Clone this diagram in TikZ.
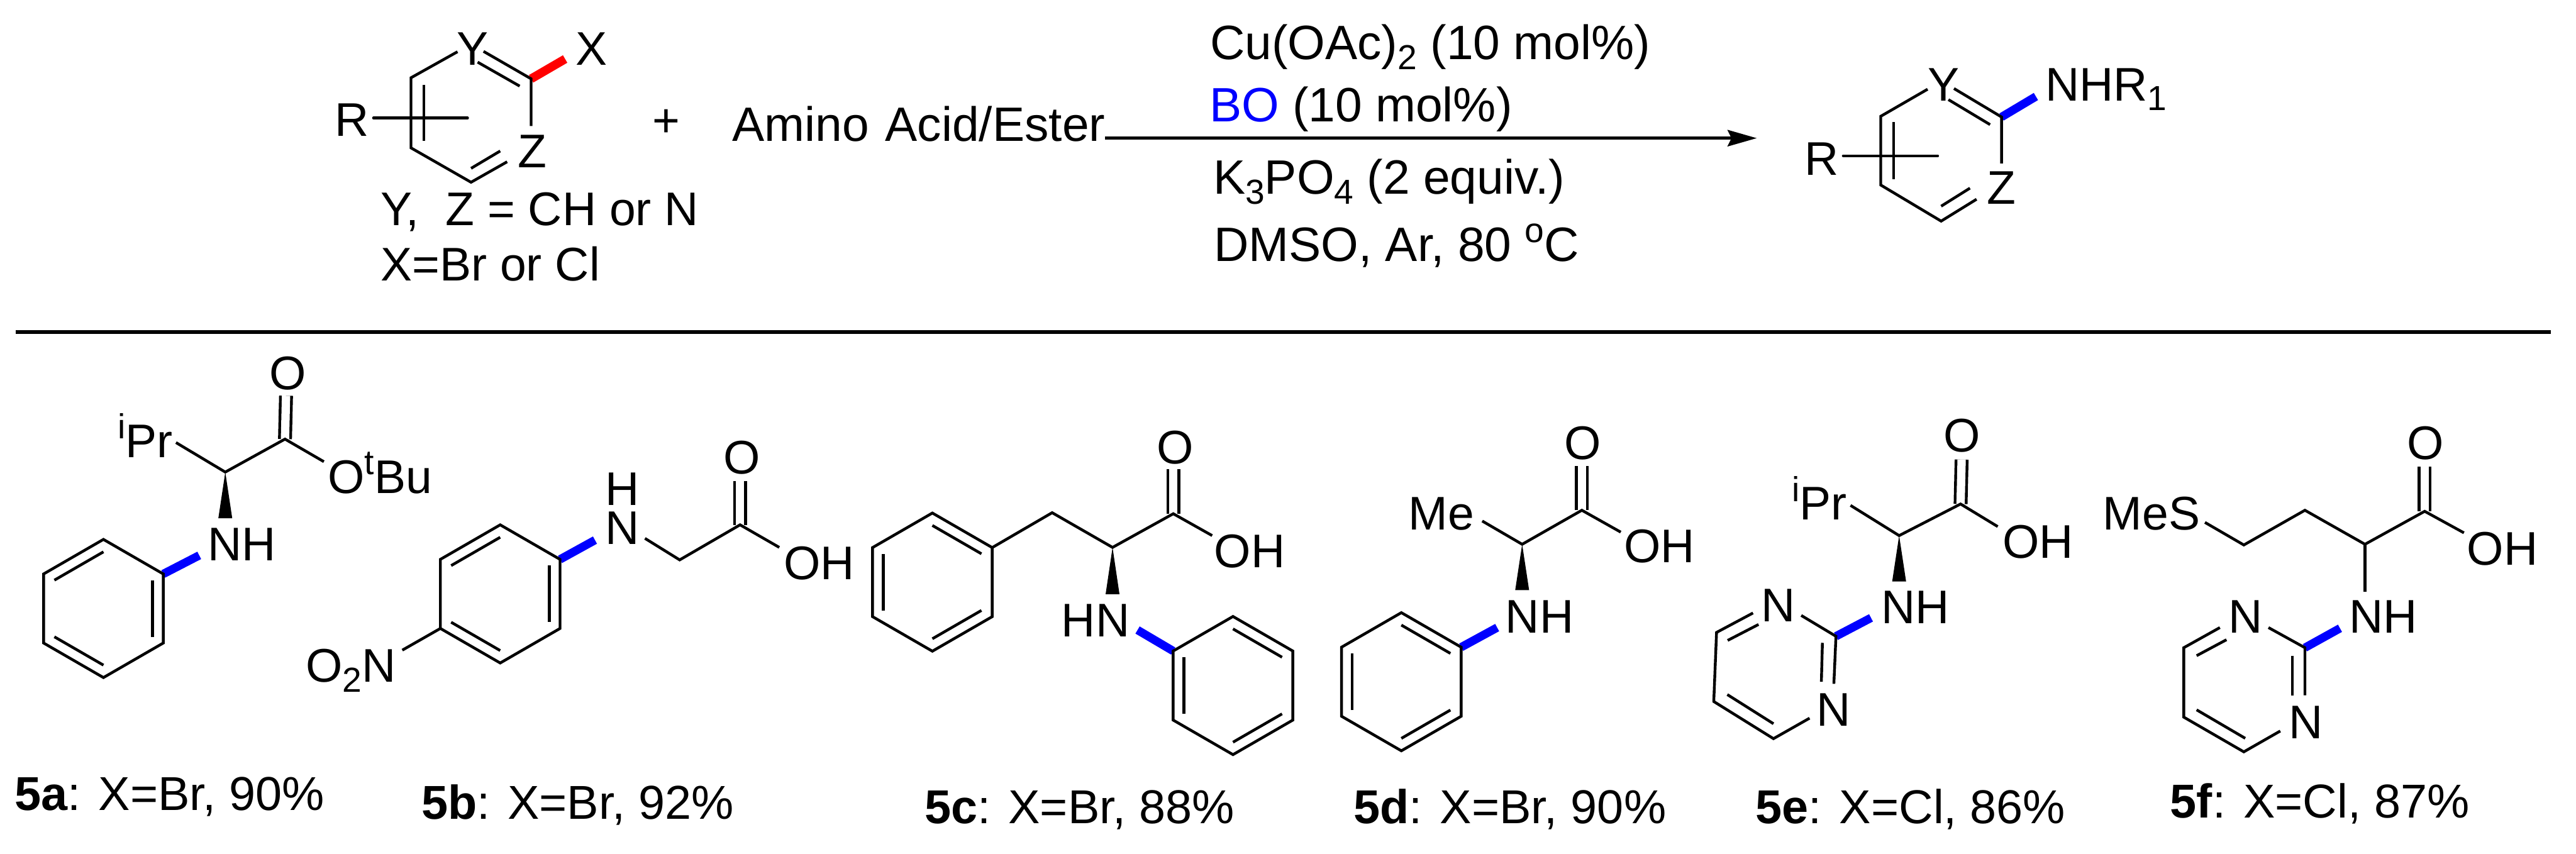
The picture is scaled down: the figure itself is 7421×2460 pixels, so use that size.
\documentclass[tikz,border=0pt]{standalone}
\usepackage{fontspec}
\setmainfont{Liberation Sans}
\usetikzlibrary{calc,arrows.meta}

\newcommand{\sbs}[1]{\raisebox{-2.8pt}{\fontsize{10}{12}\selectfont #1}}
\newcommand{\sps}[1]{\raisebox{5.4pt}{\fontsize{10}{12}\selectfont #1}}
\newcommand{\innerbond}[3]{\draw[bond] ($(#1)!0.18!(#3)$) -- ($(#2)!0.18!(#3)$);}
\newcommand{\hexpoints}[1]{%
    \foreach \n/\a in {1/-90,2/-30,3/30,4/90,5/150,6/210}
        \coordinate (#1\n) at ($(#1)+(\a:199)$);}
\newcommand{\hexring}[1]{\draw[bond] (#11) -- (#12) -- (#13) -- (#14) -- (#15) -- (#16) -- cycle;}

\tikzset{
    bond/.style={line width=0.8pt},
    doublebond/.style={bond, double, double distance=2.4pt},
    newbond/.style={line width=2.4pt, blue},
    oldbond/.style={line width=2.5pt, red},
    rxnarrow/.style={line width=0.9pt, -{Stealth[length=8.4pt,width=4.7pt,inset=1.1pt]}},
    divider/.style={line width=1pt},
    atom/.style={inner sep=0pt, anchor=base west, font=\fontsize{13.6}{16}\selectfont},
    reagent/.style={atom, font=\fontsize{13.9}{16}\selectfont},
    yield/.style={atom, font=\fontsize{13.7}{16}\selectfont},
}

\begin{document}
\begin{tikzpicture}[x=0.1pt, y=-0.1pt]
    \useasboundingbox (0,0) rectangle (7421,2460);

    % Substrate
    \node[atom] (subR) at (963,393) {R};
    \node[atom] (subY) at (1315,187) {Y};
    \node[atom] (subX) at (1657,187) {X};
    \node[atom] (subZ) at (1490,482) {Z};
    \coordinate (s1) at (1184,224);
    \coordinate (s2) at (1184,426);
    \coordinate (s3) at (1357,525);
    \coordinate (s4) at (1530,227);
    \coordinate (sY) at (1318,149);
    \coordinate (sYb) at (1393,148);
    \coordinate (sYi) at (1376,179);
    \coordinate (s4i) at (1497,248);
    \coordinate (sZ) at (1530,363);
    \coordinate (sZb) at (1461,466);
    \coordinate (sZi) at (1441,435);
    \coordinate (s3i) at (1357,485);
    \coordinate (s1i) at (1221,244);
    \coordinate (s2i) at (1221,406);
    \coordinate (sRl) at (1076,340);
    \coordinate (sRr) at (1347,340);
    \coordinate (sXe) at (1628,170);
    \draw[oldbond] (s4) -- (sXe);
    \draw[bond] (sY) -- (s1) -- (s2) -- (s3) -- (sZb);
    \draw[bond] (sYb) -- (s4) -- (sZ);
    \draw[bond] (sYi) -- (s4i);
    \draw[bond] (s3i) -- (sZi);
    \draw[bond] (s1i) -- (s2i);
    \draw[bond, line cap=round] (sRl) -- (sRr);
    \node[atom] (plus) at (1877,394) {+};
    \node[atom] (defYZ) at (1095,649) {Y,~~Z = CH or N};
    \node[atom] (defX) at (1095,808) {X=Br or Cl};

    % Conditions
    \node[reagent] (amino) at (2108,407) {Amino\kern0.8pt~Acid/Ester};
    \node[reagent] (cu) at (3484,172) {Cu(OAc)\sbs{2} (10 mol\%)};
    \node[reagent] (bo) at (3482,351) {\textcolor{blue}{BO} (10 mol\%)};
    \node[reagent] (base) at (3493,559) {K\sbs{3}PO\sbs{4} (2 equiv.)};
    \node[reagent] (solv) at (3495,753) {DMSO, Ar, 80 \sps{o}C};
    \coordinate (arrowL) at (3184,398);
    \coordinate (arrowR) at (5061,398);
    \draw[rxnarrow] (arrowL) -- (arrowR);

    % Product
    \node[atom] (proR) at (5196,504) {R};
    \node[atom] (proY) at (5551,290) {Y};
    \node[atom] (proN) at (5890,290) {NHR\sbs{1}};
    \node[atom] (proZ) at (5723,587) {Z};
    \coordinate (p1) at (5418,335);
    \coordinate (p2) at (5418,533);
    \coordinate (p3) at (5592,637);
    \coordinate (p4) at (5766,337);
    \coordinate (pY) at (5553,257);
    \coordinate (pYb) at (5629,255);
    \coordinate (pYi) at (5613,287);
    \coordinate (p4i) at (5733,359);
    \coordinate (pZ) at (5766,471);
    \coordinate (pZb) at (5694,574);
    \coordinate (pZi) at (5675,542);
    \coordinate (p3i) at (5592,594);
    \coordinate (p1i) at (5455,352);
    \coordinate (p2i) at (5455,516);
    \coordinate (pRl) at (5310,449);
    \coordinate (pRr) at (5582,449);
    \coordinate (pNe) at (5865,278);
    \draw[newbond] (p4) -- (pNe);
    \draw[bond] (pY) -- (p1) -- (p2) -- (p3) -- (pZb);
    \draw[bond] (pYb) -- (p4) -- (pZ);
    \draw[bond] (pYi) -- (p4i);
    \draw[bond] (p3i) -- (pZi);
    \draw[bond] (p1i) -- (p2i);
    \draw[bond, line cap=round] (pRl) -- (pRr);

    \coordinate (divL) at (45,957);
    \coordinate (divR) at (7349,957);
    \draw[divider] (divL) -- (divR);

    % 5a
    \node[atom] (aO) at (775,1123) {O};
    \node[atom] (aPr) at (338,1318) {\sps{i}Pr};
    \node[atom] (aOBu) at (943,1421) {O\sps{t}Bu};
    \node[atom] (aNH) at (596,1616) {NH};
    \coordinate (ra) at (298,1753);
    \coordinate (aC) at (821,1265);
    \coordinate (aCa) at (649,1360);
    \coordinate (aCt) at (824,1140);
    \coordinate (aPe) at (507,1275);
    \coordinate (aOe) at (933,1330);
    \coordinate (aNe) at (574,1600);
    \hexpoints{ra}
    \draw[newbond] (ra2) -- (aNe);
    \draw[doublebond] (aC) -- (aCt);
    \draw[bond] (aPe) -- (aCa) -- (aC) -- (aOe);
    \fill (aCa) -- ++(-20,133) -- ++(40,0) -- cycle;
    \hexring{ra}
    \innerbond{ra6}{ra1}{ra}
    \innerbond{ra2}{ra3}{ra}
    \innerbond{ra4}{ra5}{ra}
    \node[yield] (aLab) at (40,2334) {\textbf{5a}: X=Br, 90\%};

    % 5b
    \node[atom] (bH) at (1741,1456) {H};
    \node[atom] (bN) at (1741,1568) {N};
    \node[atom] (bO) at (2083,1365) {O};
    \node[atom] (bOH) at (2256,1669) {OH};
    \node[atom] (bNO) at (879,1965) {O\sbs{2}N};
    \coordinate (rb) at (1441,1711);
    \coordinate (bNe) at (1714,1556);
    \coordinate (bNr) at (1858,1551);
    \coordinate (bCH) at (1958,1613);
    \coordinate (bC) at (2132,1512);
    \coordinate (bCt) at (2132,1386);
    \coordinate (bOe) at (2245,1577);
    \coordinate (bNOe) at (1159,1873);
    \hexpoints{rb}
    \draw[newbond] (rb2) -- (bNe);
    \hexring{rb}
    \innerbond{rb6}{rb1}{rb}
    \innerbond{rb2}{rb3}{rb}
    \innerbond{rb4}{rb5}{rb}
    \draw[doublebond] (bC) -- (bCt);
    \draw[bond] (bNr) -- (bCH) -- (bC) -- (bOe);
    \draw[bond] (rb5) -- (bNOe);
    \node[yield] (bLab) at (1212,2360) {\textbf{5b}: X=Br, 92\%};

    % 5c
    \node[atom] (cO) at (3331,1337) {O};
    \node[atom] (cOH) at (3496,1635) {OH};
    \node[atom] (cHN) at (3056,1835) {HN};
    \coordinate (rc) at (2686,1677);
    \coordinate (rd) at (3552,1975);
    \coordinate (cCH) at (3031,1477);
    \coordinate (cCa) at (3205,1577);
    \coordinate (cC) at (3380,1480);
    \coordinate (cCt) at (3380,1352);
    \coordinate (cOe) at (3492,1543);
    \coordinate (cNe) at (3277,1815);
    \hexpoints{rc}
    \hexring{rc}
    \innerbond{rc1}{rc2}{rc}
    \innerbond{rc3}{rc4}{rc}
    \innerbond{rc5}{rc6}{rc}
    \draw[doublebond] (cC) -- (cCt);
    \draw[bond] (rc2) -- (cCH) -- (cCa) -- (cC) -- (cOe);
    \fill (cCa) -- ++(-20,135) -- ++(40,0) -- cycle;
    \hexpoints{rd}
    \draw[newbond] (rd6) -- (cNe);
    \hexring{rd}
    \innerbond{rd1}{rd2}{rd}
    \innerbond{rd3}{rd4}{rd}
    \innerbond{rd5}{rd6}{rd}
    \node[yield] (cLab) at (2662,2372) {\textbf{5c}: X=Br, 88\%};

    % 5d
    \node[atom] (dO) at (4504,1323) {O};
    \node[atom] (dOH) at (4676,1621) {OH};
    \node[atom] (dMe) at (4056,1526) {Me};
    \node[atom] (dNH) at (4335,1824) {NH};
    \coordinate (re) at (4037,1964);
    \coordinate (dC) at (4557,1470);
    \coordinate (dCa) at (4385,1568);
    \coordinate (dCt) at (4557,1342);
    \coordinate (dOe) at (4669,1533);
    \coordinate (dMee) at (4270,1501);
    \coordinate (dNe) at (4313,1808);
    \draw[doublebond] (dC) -- (dCt);
    \draw[bond] (dMee) -- (dCa) -- (dC) -- (dOe);
    \fill (dCa) -- ++(-20,132) -- ++(40,0) -- cycle;
    \hexpoints{re}
    \draw[newbond] (re2) -- (dNe);
    \hexring{re}
    \innerbond{re1}{re2}{re}
    \innerbond{re3}{re4}{re}
    \innerbond{re5}{re6}{re}
    \node[yield] (dLab) at (3898,2372) {\textbf{5d}: X=Br, 90\%};

    % 5e
    \node[atom] (eO) at (5598,1302) {O};
    \node[atom] (ePr) at (5160,1498) {\sps{i}Pr};
    \node[atom] (eOH) at (5767,1607) {OH};
    \node[atom] (eNH) at (5417,1796) {NH};
    \node[atom] (eNt) at (5072,1790) {N};
    \node[atom] (eNb) at (5231,2091) {N};
    \coordinate (eC) at (5648,1452);
    \coordinate (eCa) at (5471,1543);
    \coordinate (eCt) at (5651,1324);
    \coordinate (ePe) at (5331,1456);
    \coordinate (eOe) at (5755,1517);
    \coordinate (eNe) at (5390,1780);
    \coordinate (e2) at (5289,1833);
    \coordinate (e3) at (5283,1970);
    \coordinate (e3i) at (5247,1964);
    \coordinate (e2i) at (5250,1852);
    \coordinate (e4) at (5213,2069);
    \coordinate (e5) at (5109,2128);
    \coordinate (e5i) at (5109,2085);
    \coordinate (e6) at (4937,2021);
    \coordinate (e6i) at (4976,2001);
    \coordinate (e7) at (4945,1822);
    \coordinate (e7i) at (4977,1845);
    \coordinate (e8) at (5050,1766);
    \coordinate (e8i) at (5066,1799);
    \coordinate (e1) at (5189,1773);
    \draw[newbond] (e2) -- (eNe);
    \draw[doublebond] (eC) -- (eCt);
    \draw[bond] (ePe) -- (eCa) -- (eC) -- (eOe);
    \fill (eCa) -- ++(-20,132) -- ++(40,0) -- cycle;
    \draw[bond] (e1) -- (e2) -- (e3);
    \draw[bond] (e2i) -- (e3i);
    \draw[bond] (e4) -- (e5) -- (e6) -- (e7) -- (e8);
    \draw[bond] (e5i) -- (e6i);
    \draw[bond] (e7i) -- (e8i);
    \node[yield] (eLab) at (5056,2372) {\textbf{5e}: X=Cl, 86\%};

    % 5f
    \node[atom] (fO) at (6933,1323) {O};
    \node[atom] (fOH) at (7105,1627) {OH};
    \node[atom] (fMeS) at (6056,1526) {MeS};
    \node[atom] (fNH) at (6766,1824) {NH};
    \node[atom] (fNt) at (6417,1824) {N};
    \node[atom] (fNb) at (6591,2127) {N};
    \coordinate (fC) at (6985,1473);
    \coordinate (fCa) at (6813,1568);
    \coordinate (fCt) at (6985,1344);
    \coordinate (fOe) at (7098,1535);
    \coordinate (fCH1) at (6640,1470);
    \coordinate (fCH2) at (6464,1570);
    \coordinate (fSe) at (6352,1505);
    \coordinate (fNa) at (6813,1705);
    \coordinate (fNe) at (6741,1810);
    \coordinate (f2) at (6640,1866);
    \coordinate (f3) at (6640,2003);
    \coordinate (f3i) at (6604,2003);
    \coordinate (f2i) at (6604,1889);
    \coordinate (f4) at (6569,2106);
    \coordinate (f5) at (6464,2166);
    \coordinate (f5i) at (6468,2127);
    \coordinate (f6) at (6291,2066);
    \coordinate (f6i) at (6328,2045);
    \coordinate (f7) at (6291,1866);
    \coordinate (f7i) at (6328,1889);
    \coordinate (f8) at (6395,1808);
    \coordinate (f8i) at (6414,1843);
    \coordinate (f1) at (6535,1808);
    \draw[newbond] (f2) -- (fNe);
    \draw[doublebond] (fC) -- (fCt);
    \draw[bond] (fSe) -- (fCH2) -- (fCH1) -- (fCa) -- (fC) -- (fOe);
    \draw[bond] (fCa) -- (fNa);
    \draw[bond] (f1) -- (f2) -- (f3);
    \draw[bond] (f2i) -- (f3i);
    \draw[bond] (f4) -- (f5) -- (f6) -- (f7) -- (f8);
    \draw[bond] (f5i) -- (f6i);
    \draw[bond] (f7i) -- (f8i);
    \node[yield] (fLab) at (6250,2357) {\textbf{5f}: X=Cl, 87\%};
\end{tikzpicture}
\end{document}
